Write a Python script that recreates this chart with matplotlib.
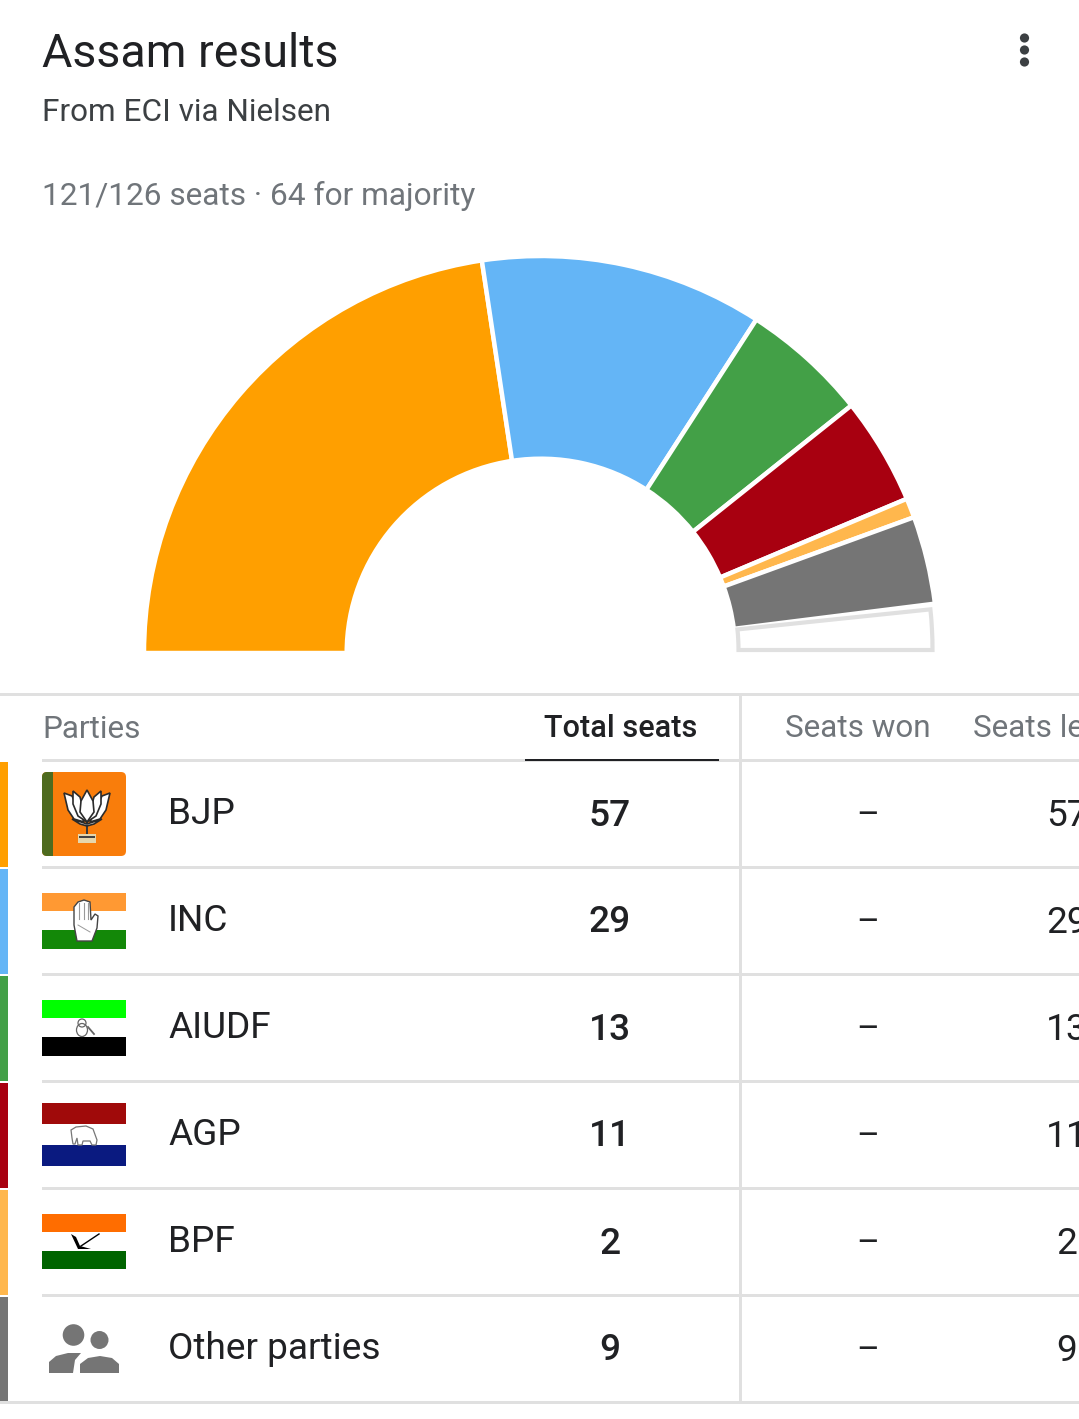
#!/usr/bin/env python
"""Assam results card: seat hemicycle plus party table, laid out in screen pixels."""

import matplotlib
matplotlib.use("Agg")
import matplotlib.pyplot as plt
from matplotlib.patches import Circle, Ellipse, FancyBboxPatch, Polygon, Rectangle

W, H = 1079, 1419

parties = ["BJP", "INC", "AIUDF", "AGP", "BPF", "Other parties"]
total_seats = [57, 29, 13, 11, 2, 9]
seats_won = ["–", "–", "–", "–", "–", "–"]
seats_leading = [57, 29, 13, 11, 2, 9]
colors = ["#ff9f00", "#64b5f6", "#43a047", "#a80010", "#ffb74d", "#757575"]
seats_counted = 121
seats_all = 126
majority = 64

INK = "#202124"
GREY = "#70757a"
LINE = "#e0e0e0"

plt.rcParams["font.family"] = ["Roboto", "DejaVu Sans"]

fig = plt.figure(figsize=(W / 100, H / 100), dpi=100, facecolor="white")
ax = fig.add_axes([0, 0, 1, 1])


def Y(y):
    return H - y


def put(x, y, s, px, color=INK, ha="left", weight="normal"):
    ax.text(x, Y(y), s, fontsize=px * 0.72, color=color, ha=ha, va="center", weight=weight)


def box(x0, y0, x1, y1, color, z=2):
    r = Rectangle((x0, Y(y1)), x1 - x0, y1 - y0, facecolor=color, edgecolor="none", zorder=z)
    ax.add_patch(r)
    return r


def shape(points, face, edge="none", lw=0, z=4):
    ax.add_patch(Polygon([(x, Y(y)) for x, y in points], facecolor=face, edgecolor=edge, lw=lw, zorder=z))


def dot(x, y, r, face, edge="none", lw=0, z=4):
    ax.add_patch(Circle((x, Y(y)), r, facecolor=face, edgecolor=edge, lw=lw, zorder=z))


# title block
put(42, 54, "Assam results", 46.5, "#202124")
put(42, 112.5, "From ECI via Nielsen", 31.5, "#3c4043")
put(42, 196, f"{seats_counted}/{seats_all} seats · {majority} for majority", 31.6, GREY)
for y in (38, 50, 62):
    dot(1024.5, y, 4.6, "#3c4043")

# hemicycle: the hidden half of the pie is one extra slice of all seats
remaining = seats_all - seats_counted
wedges, _ = ax.pie(
    total_seats + [remaining, seats_all],
    colors=colors + ["white", "none"],
    startangle=180,
    counterclock=False,
    center=(541, Y(653)),
    radius=397,
    wedgeprops=dict(width=202.7, edgecolor="white", linewidth=3.2),
)
wedges[-1].set_visible(False)
# the seats still to come are an outlined, slightly inset slice
empty = wedges[-2]
empty.set_center((540, Y(650)))
empty.set_theta2(empty.theta2 - 1.2)
empty.set_radius(392.5)
empty.set_width(194)
empty.set_edgecolor(LINE)
empty.set_linewidth(3.0)

# table frame
row_tops = [760, 867, 974, 1081, 1188, 1295]
ROW_H = 107
box(0, 693, W, 696, LINE)
box(42, 759, W, 762, LINE)
box(739, 695, 742, 1402, LINE)
box(525, 759, 719, 761, INK, z=3)
put(42, 729, "Parties", 31.5, GREY)
put(621, 728.5, "Total seats", 30.6, INK, ha="center", weight="medium")
put(785, 728.5, "Seats won", 31.5, GREY)
put(973, 728.5, "Seats leading", 31.5, GREY)

for i, top in enumerate(row_tops):
    mid = top + ROW_H / 2
    box(0, top + 2, 8, top + ROW_H, colors[i])
    box(0 if i == 5 else 42, top + ROW_H - 1, W, top + ROW_H + 2, LINE)
    put(168, mid + 0.5, parties[i], 37)
    put(610, mid + 2.5, str(total_seats[i]), 37, INK, ha="center", weight="medium")
    put(867.5, mid + 2, seats_won[i], 35, INK, ha="center")
    put(1067, mid + 2.5, str(seats_leading[i]), 37, INK, ha="center")

# BJP logo
logo = FancyBboxPatch((46, Y(852)), 76, 76, boxstyle="round,pad=4,rounding_size=5",
                      facecolor="#f97d0b", edgecolor="none", zorder=2)
ax.add_patch(logo)
box(42, 772, 53, 856, "#4e6b1f", z=3).set_clip_path(logo)
box(86, 818, 88, 836, "#3a3a3a", z=4)
box(78, 834, 96, 843, "#e6d7ad", z=4)
box(79, 836, 95, 838, "#444444", z=5)
shape([(64, 793), (72, 796), (78, 808), (84, 822), (74, 819), (68, 810)], "white", "#2b2b2b", 1.2)
shape([(110, 793), (102, 796), (96, 808), (90, 822), (100, 819), (106, 810)], "white", "#2b2b2b", 1.2)
shape([(73, 791), (80, 797), (83, 808), (87, 822), (78, 816), (73, 804)], "white", "#2b2b2b", 1.2)
shape([(101, 791), (94, 797), (91, 808), (87, 822), (96, 816), (101, 804)], "white", "#2b2b2b", 1.2)
shape([(87, 790), (81, 801), (80, 812), (87, 822), (94, 812), (93, 801)], "white", "#2b2b2b", 1.2)
shape([(72, 819), (87, 824), (102, 819), (94, 824), (87, 826), (80, 824)], "white", "#2b2b2b", 1.2)

# INC flag with hand
box(42, 893, 126, 911, "#ff9933")
box(42, 930, 126, 949, "#138808")
shape([(77, 941), (74, 925), (74, 907), (78, 902), (84, 900), (90, 902), (91, 920), (95, 914), (98, 916),
       (97, 928), (92, 941)], "white", "#444444", 1)
for x in (79, 84, 88):
    ax.plot([x, x], [Y(903), Y(919)], color="#999999", lw=0.8, zorder=5)
ax.plot([78, 90], [Y(925), Y(932)], color="#999999", lw=0.7, zorder=5)

# AIUDF flag with lock
box(42, 1000, 126, 1018, "#00ff00")
box(42, 1037, 126, 1056, "#000000")
ax.add_patch(Ellipse((82, Y(1030)), 11, 13, facecolor="white", edgecolor="#666666", lw=0.9, zorder=4))
ax.add_patch(Ellipse((82, Y(1023)), 8, 8, facecolor="none", edgecolor="#666666", lw=0.9, zorder=4))
ax.plot([88, 94], [Y(1027), Y(1034)], color="#666666", lw=1.3, zorder=4)

# AGP flag with elephant
box(42, 1103, 126, 1124, "#a00a0a")
box(42, 1145, 126, 1166, "#0a1a80")
shape([(72, 1138), (71, 1130), (76, 1127), (86, 1126), (93, 1129), (97, 1140), (96, 1145), (92, 1145),
       (90, 1141), (83, 1141), (82, 1145), (78, 1145), (77, 1138), (75, 1144), (73, 1144)], "white", "#777777", 0.9)

# BPF flag with plough
box(42, 1214, 126, 1232, "#ff6d00")
box(42, 1251, 126, 1269, "#006400")
shape([(71, 1234), (76, 1237), (80, 1246), (91, 1249), (78, 1249)], "black")
ax.plot([81, 99], [Y(1246), Y(1234)], color="black", lw=1, zorder=4)

# other parties icon
OTHER = "#757575"
dot(73.5, 1335, 10.8, OTHER)
dot(99.5, 1340, 9, OTHER)
shape([(49, 1373), (49, 1362), (56, 1356), (68, 1353), (81, 1353), (75, 1360), (73, 1373)], OTHER)
shape([(80, 1373), (80, 1364), (88, 1358), (100, 1356), (112, 1358), (119, 1364), (119, 1373)], OTHER)

ax.set_xlim(0, W)
ax.set_ylim(0, H)
ax.set_aspect("auto")
ax.axis("off")

fig.savefig("out.png", dpi=100, facecolor="white")
plt.close(fig)
